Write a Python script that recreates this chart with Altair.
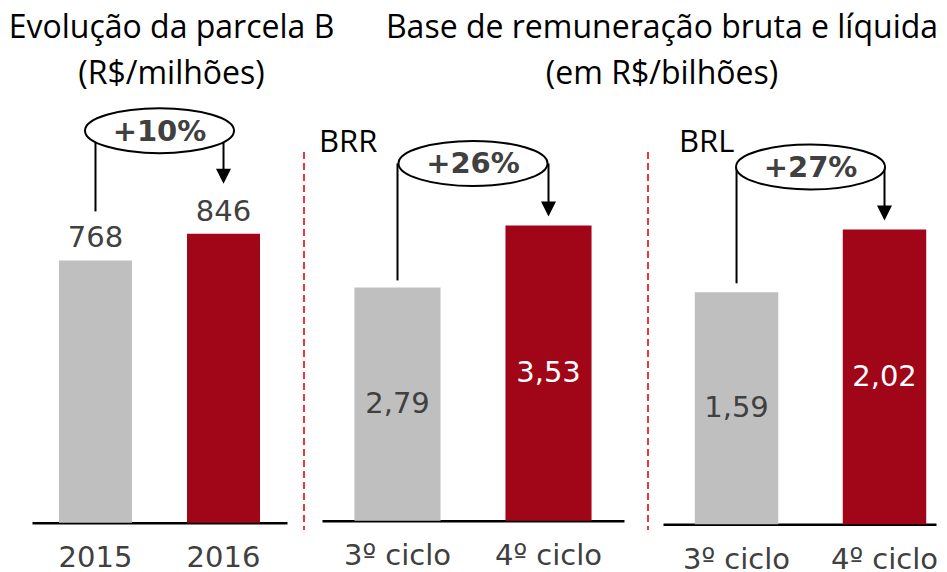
import altair as alt
import pandas as pd

# ---- data ----
cats1 = ["2015", "2016"]
vals1 = [768, 846]
labels1 = ["768", "846"]

cats2 = ["3º ciclo", "4º ciclo"]
vals2 = [2.79, 3.53]
labels2 = ["2,79", "3,53"]

cats3 = ["3º ciclo", "4º ciclo"]
vals3 = [1.59, 2.02]
labels3 = ["1,59", "2,02"]

growth = ["+10%", "+26%", "+27%"]
ellipse_level = [1148, 4.273, 2.449]   # height of the growth bubble, in each panel's units
tags = ["", "BRR", "BRL"]

title_left = ["Evolução da parcela B", "(R$/milhões)"]
title_right = ["Base de remuneração bruta e líquida", "(em R$/bilhões)"]

# ---- style ----
GRAY = "#BFBFBF"
RED = "#A00518"
TXT = "#404040"
DIV = "#E8383D"
NUM_FONT = "DejaVu Sans"
TTL_FONT = "Open Sans"

ELLIPSE = ("M-1,0 C-1,-0.1668 -0.5523,-0.302 0,-0.302 C0.5523,-0.302 1,-0.1668 1,0 "
           "C1,0.1668 0.5523,0.302 0,0.302 C-0.5523,0.302 -1,0.1668 -1,0 Z")
ARROW = "M-1,-1 L1,-1 L0,1 Z"


def panel(cats, vals, labels, g, lvl, tag, width, height, ymax, pin, pout, align,
          inside, gap_left, gap_right, tag_x, div_x):
    df = pd.DataFrame({"cat": cats, "val": vals, "lab": labels, "lvl": [lvl, lvl], "g": [g, g]})
    n = len(cats)
    step = width / (n - pin + 2 * pout)

    axis = alt.Axis(title=None, labelAngle=0, ticks=False, tickSize=0,
                    domainColor="black", domainWidth=2.5,
                    labelFont=NUM_FONT, labelFontSize=29, labelColor=TXT,
                    labelPadding=21, grid=False)

    def X():
        return alt.X("cat:N", sort=cats, axis=axis,
                     scale=alt.Scale(paddingInner=pin, paddingOuter=pout, align=align))

    yscale = alt.Scale(domain=[0, ymax], nice=False, zero=True)

    def Y(f):
        return alt.Y(f, scale=yscale, axis=None)

    base = alt.Chart(df)

    bars = base.mark_bar().encode(
        x=X(), y=Y("val:Q"),
        color=alt.Color("cat:N", scale=alt.Scale(domain=cats, range=[GRAY, RED]), legend=None),
    )

    if inside:
        labels_layer = base.transform_calculate(mid="datum.val/2").mark_text(
            font=NUM_FONT, fontSize=29, baseline="middle", align="center"
        ).encode(
            x=X(), y=Y("mid:Q"), text="lab:N",
            color=alt.condition(alt.datum.cat == cats[1], alt.value("white"), alt.value(TXT)),
        )
    else:
        labels_layer = base.mark_text(
            font=NUM_FONT, fontSize=29, baseline="alphabetic", align="center", dy=-13, color=TXT
        ).encode(x=X(), y=Y("val:Q"), text="lab:N")

    left_rule = base.transform_filter(alt.datum.cat == cats[0]).mark_rule(
        color="black", strokeWidth=2, y2Offset=-gap_left
    ).encode(x=X(), y=Y("lvl:Q"), y2="val:Q")

    right_rule = base.transform_filter(alt.datum.cat == cats[1]).mark_rule(
        color="black", strokeWidth=2, y2Offset=-(gap_right + 7.5)
    ).encode(x=X(), y=Y("lvl:Q"), y2="val:Q")

    arrow = base.transform_filter(alt.datum.cat == cats[1]).mark_point(
        shape=ARROW, size=225, filled=True, color="black", opacity=1, yOffset=-(gap_right + 7.5)
    ).encode(x=X(), y=Y("val:Q"))

    bubble = base.transform_filter(alt.datum.cat == cats[0]).mark_point(
        shape=ELLIPSE, size=22201, filled=True, fill="white", stroke="black",
        strokeWidth=2, opacity=1, fillOpacity=1, xOffset=step / 2
    ).encode(x=X(), y=Y("lvl:Q"))

    bubble_txt = base.transform_filter(alt.datum.cat == cats[0]).mark_text(
        font=NUM_FONT, fontSize=29, fontWeight="bold", color=TXT, baseline="middle",
        align="center", xOffset=step / 2, dy=1
    ).encode(x=X(), y=Y("lvl:Q"), text="g:N")

    layers = [bars, labels_layer, left_rule, right_rule, arrow, bubble, bubble_txt]

    if tag:
        one = base.transform_filter(alt.datum.cat == cats[0])
        tag_layer = one.mark_text(
            font=TTL_FONT, fontSize=31, color="black", align="left", baseline="alphabetic"
        ).encode(x=alt.value(tag_x), y=alt.value(52), text=alt.value(tag))
        divider = one.mark_rule(color=DIV, strokeWidth=2, strokeDash=[7, 4]).encode(
            x=alt.value(div_x), y=alt.value(52), y2=alt.value(430)
        )
        layers = [divider, tag_layer] + layers

    return alt.layer(*layers).properties(width=width, height=height)


ch1 = panel(cats1, vals1, labels1, growth[0], ellipse_level[0], tags[0],
            255, 422.7, 1237.8, 0.43, 0.211, 0.5, False, 49, 50, 0, 0)
ch2 = panel(cats2, vals2, labels2, growth[1], ellipse_level[1], tags[1],
            302, 420.7, 5.032, 0.43, 0.215, 0.5, True, 7, 9, -3, -18)
ch3 = panel(cats3, vals3, labels3, growth[2], ellipse_level[2], tags[2],
            273, 424.3, 2.908, 0.436, 0.1405, 0.765, True, 9, 9, 16, -15)

ch1 = ch1.properties(title=alt.TitleParams(
    text=title_left, font=TTL_FONT, fontSize=32, fontWeight="normal", color="black",
    lineHeight=46, anchor="middle", frame="group", dx=12, offset=9))

right = alt.hconcat(ch2, ch3, spacing=39, bounds="flush").properties(
    title=alt.TitleParams(
        text=title_right, font=TTL_FONT, fontSize=32, fontWeight="normal", color="black",
        lineHeight=46, anchor="start", align="center", frame="group", dx=340, offset=9))

chart = alt.hconcat(ch1, right, spacing=35, bounds="flush").properties(
    padding={"left": 0, "right": 0, "top": 4, "bottom": 0}
).configure_view(stroke=None)

chart.save("out.html", embed_options={"renderer": "svg", "actions": False})
